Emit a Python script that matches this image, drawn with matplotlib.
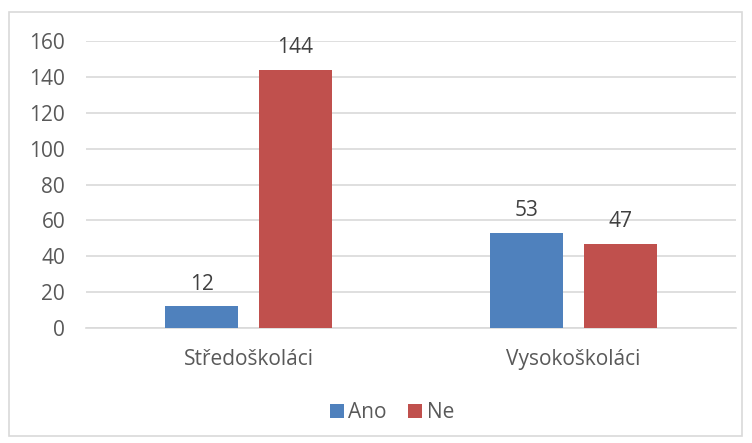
import matplotlib.pyplot as plt
import numpy as np
from matplotlib.patches import Rectangle

categories = ["Středoškoláci", "Vysokoškoláci"]
ano = [12, 53]
ne = [144, 47]
series_names = ["Ano", "Ne"]
y_ticks = [0, 20, 40, 60, 80, 100, 120, 140, 160]

plt.rcParams['font.family'] = ['Open Sans', 'DejaVu Sans']
text_color = '#595959'
fs = 15

fig = plt.figure(figsize=(7.52, 4.43), dpi=100)
ax = fig.add_axes([0.1144, 0.2596, 0.8644, 0.6478])

# chart border
fig.patches.append(Rectangle((9 / 752, 1 - 436 / 443), 733 / 752, 424 / 443,
                             transform=fig.transFigure, fill=False,
                             edgecolor='#D9D9D9', linewidth=1.2))

x = np.arange(len(categories))
w = 0.224
off = 0.144
b1 = ax.bar(x - off, ano, w, color='#4F81BD', label=series_names[0], zorder=3)
b2 = ax.bar(x + off, ne, w, color='#C0504D', label=series_names[1], zorder=3)

for bars in (b1, b2):
    for bar in bars:
        ax.annotate(str(int(bar.get_height())),
                    (bar.get_x() + bar.get_width() / 2, bar.get_height()),
                    xytext=(0, 8.5), textcoords='offset points',
                    ha='center', va='bottom', fontsize=fs, color='#404040')

ax.set_xlim(-0.5, 1.5)
ax.set_ylim(0, 160)
ax.set_yticks(y_ticks)
ax.set_xticks(x)
ax.set_xticklabels(categories)
ax.yaxis.grid(True, color='#D9D9D9', linewidth=1.2, zorder=0)
for s in ['top', 'right', 'left']:
    ax.spines[s].set_visible(False)
ax.spines['bottom'].set_color('#D9D9D9')
ax.spines['bottom'].set_linewidth(1.2)
ax.tick_params(axis='y', length=0, pad=15, labelsize=fs, labelcolor=text_color)
ax.tick_params(axis='x', length=0, pad=15, labelsize=fs, labelcolor=text_color)

leg = fig.legend(loc='center', bbox_to_anchor=(0.521, 0.068), ncol=2, frameon=False,
                 fontsize=fs, handlelength=0.7, handleheight=0.7,
                 handletextpad=0.2, columnspacing=1.0)
for t in leg.get_texts():
    t.set_color(text_color)

fig.savefig('out.png', dpi=100)
